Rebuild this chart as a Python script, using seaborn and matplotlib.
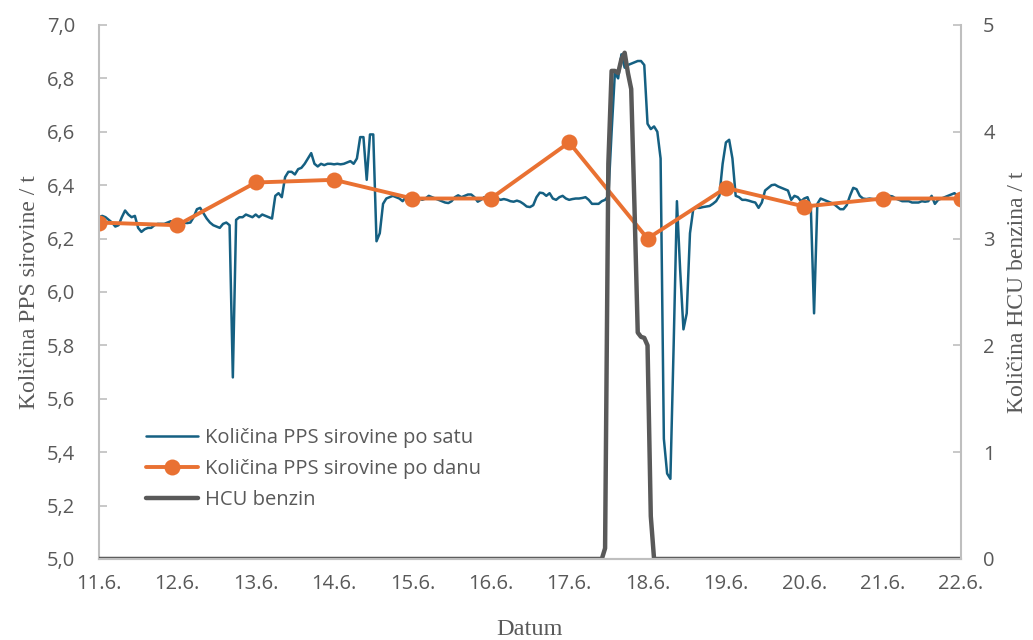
import matplotlib
matplotlib.use("Agg")
import matplotlib.pyplot as plt
import matplotlib.dates as mdates
from matplotlib.ticker import FuncFormatter, MultipleLocator
from matplotlib.lines import Line2D
import pandas as pd
import seaborn as sns

# hourly feed of PPS raw material (t), one list per day
day_11 = [6.28, 6.285, 6.28, 6.27, 6.26, 6.245, 6.25, 6.28, 6.305, 6.29, 6.28, 6.285,
          6.24, 6.225, 6.235, 6.24, 6.24, 6.25, 6.255, 6.255, 6.255, 6.26, 6.265, 6.26]
day_12 = [6.26, 6.262, 6.26, 6.258, 6.26, 6.28, 6.31, 6.315, 6.295, 6.275, 6.26, 6.25,
          6.245, 6.24, 6.255, 6.26, 6.25, 5.68, 6.27, 6.28, 6.28, 6.29, 6.285, 6.28]
day_13 = [6.29, 6.28, 6.29, 6.285, 6.28, 6.275, 6.36, 6.37, 6.355, 6.43, 6.45, 6.45,
          6.44, 6.46, 6.465, 6.48, 6.50, 6.52, 6.48, 6.47, 6.48, 6.475, 6.48, 6.48]
day_14 = [6.478, 6.48, 6.478, 6.48, 6.485, 6.49, 6.48, 6.50, 6.58, 6.58, 6.42, 6.59,
          6.59, 6.19, 6.22, 6.33, 6.35, 6.355, 6.36, 6.355, 6.35, 6.34, 6.355, 6.35]
day_15 = [6.35, 6.345, 6.35, 6.345, 6.35, 6.36, 6.355, 6.35, 6.345, 6.34, 6.335, 6.333,
          6.34, 6.355, 6.362, 6.355, 6.36, 6.365, 6.365, 6.355, 6.338, 6.345, 6.355, 6.35]
day_16 = [6.35, 6.345, 6.35, 6.345, 6.348, 6.345, 6.34, 6.338, 6.342, 6.338, 6.33, 6.32,
          6.318, 6.325, 6.355, 6.372, 6.37, 6.36, 6.37, 6.35, 6.345, 6.355, 6.36, 6.35]
day_17 = [6.345, 6.348, 6.35, 6.35, 6.352, 6.355, 6.345, 6.33, 6.33, 6.33, 6.34, 6.345,
          6.36, 6.60, 6.82, 6.80, 6.89, 6.84, 6.85, 6.855, 6.86, 6.865, 6.865, 6.85]
day_18 = [6.63, 6.61, 6.62, 6.60, 6.50, 5.45, 5.32, 5.30, 5.80, 6.34, 6.08, 5.86,
          5.92, 6.22, 6.31, 6.315, 6.315, 6.318, 6.32, 6.322, 6.33, 6.34, 6.36, 6.48]
day_19 = [6.56, 6.57, 6.50, 6.36, 6.355, 6.345, 6.345, 6.342, 6.338, 6.335, 6.315, 6.335,
          6.38, 6.39, 6.40, 6.402, 6.395, 6.39, 6.385, 6.38, 6.345, 6.36, 6.355, 6.34]
day_20 = [6.35, 6.355, 6.32, 5.92, 6.33, 6.35, 6.345, 6.34, 6.335, 6.33, 6.32, 6.31,
          6.31, 6.325, 6.36, 6.39, 6.385, 6.36, 6.35, 6.348, 6.35, 6.348, 6.345, 6.34]
day_21 = [6.33, 6.35, 6.36, 6.358, 6.35, 6.345, 6.34, 6.34, 6.34, 6.335, 6.335, 6.335,
          6.34, 6.338, 6.34, 6.36, 6.33, 6.345, 6.35, 6.355, 6.36, 6.365, 6.37, 6.36]
day_22 = [6.37]

# daily average of PPS raw material (t)
daily_values = [6.26, 6.25, 6.41, 6.42, 6.35, 6.35, 6.56, 6.20, 6.39, 6.32, 6.35, 6.35]

# HCU gasoline (t), hourly
hcu_11 = [0, 0, 0, 0, 0, 0, 0, 0, 0, 0, 0, 0, 0, 0, 0, 0, 0, 0, 0, 0, 0, 0, 0, 0]
hcu_12 = [0, 0, 0, 0, 0, 0, 0, 0, 0, 0, 0, 0, 0, 0, 0, 0, 0, 0, 0, 0, 0, 0, 0, 0]
hcu_13 = [0, 0, 0, 0, 0, 0, 0, 0, 0, 0, 0, 0, 0, 0, 0, 0, 0, 0, 0, 0, 0, 0, 0, 0]
hcu_14 = [0, 0, 0, 0, 0, 0, 0, 0, 0, 0, 0, 0, 0, 0, 0, 0, 0, 0, 0, 0, 0, 0, 0, 0]
hcu_15 = [0, 0, 0, 0, 0, 0, 0, 0, 0, 0, 0, 0, 0, 0, 0, 0, 0, 0, 0, 0, 0, 0, 0, 0]
hcu_16 = [0, 0, 0, 0, 0, 0, 0, 0, 0, 0, 0, 0, 0, 0, 0, 0, 0, 0, 0, 0, 0, 0, 0, 0]
hcu_17 = [0, 0, 0, 0, 0, 0, 0, 0, 0, 0, 0, 0.1,
          3.7, 4.57, 4.57, 4.55, 4.68, 4.74, 4.55, 4.40, 3.3, 2.12, 2.08, 2.07]
hcu_18 = [2.0, 0.4, 0, 0, 0, 0, 0, 0, 0, 0, 0, 0, 0, 0, 0, 0, 0, 0, 0, 0, 0, 0, 0, 0]
hcu_19 = [0, 0, 0, 0, 0, 0, 0, 0, 0, 0, 0, 0, 0, 0, 0, 0, 0, 0, 0, 0, 0, 0, 0, 0]
hcu_20 = [0, 0, 0, 0, 0, 0, 0, 0, 0, 0, 0, 0, 0, 0, 0, 0, 0, 0, 0, 0, 0, 0, 0, 0]
hcu_21 = [0, 0, 0, 0, 0, 0, 0, 0, 0, 0, 0, 0, 0, 0, 0, 0, 0, 0, 0, 0, 0, 0, 0, 0]
hcu_22 = [0]

labels = ["Količina PPS sirovine po satu", "Količina PPS sirovine po danu", "HCU benzin"]

pps_hourly = (day_11 + day_12 + day_13 + day_14 + day_15 + day_16 + day_17 + day_18
              + day_19 + day_20 + day_21 + day_22)
hcu_hourly = (hcu_11 + hcu_12 + hcu_13 + hcu_14 + hcu_15 + hcu_16 + hcu_17 + hcu_18
              + hcu_19 + hcu_20 + hcu_21 + hcu_22)

hours = pd.date_range("2024-06-11 00:00", periods=len(pps_hourly), freq="h")
days = pd.date_range("2024-06-11", periods=len(daily_values), freq="D")

hourly_df = pd.DataFrame({"time": hours, "pps": pps_hourly, "hcu": hcu_hourly})
daily_df = pd.DataFrame({"time": days, "pps": daily_values})

BLUE = "#156082"
ORANGE = "#E97132"
GRAY = "#595959"
AXIS = "#BFBFBF"
TEXT = "#595959"

sns.set_theme(style="white")
plt.rcParams["font.family"] = ["Open Sans", "DejaVu Sans"]

fig = plt.figure(figsize=(10.33, 6.4), dpi=100)
ax = fig.add_axes([0.0958, 0.1266, 0.8345, 0.8344])
ax2 = ax.twinx()

sns.lineplot(data=hourly_df, x="time", y="pps", ax=ax, color=BLUE, linewidth=1.8)
sns.lineplot(data=daily_df, x="time", y="pps", ax=ax, color=ORANGE, linewidth=2.8,
             marker="o", markersize=11.5, markeredgewidth=0)
sns.lineplot(data=hourly_df, x="time", y="hcu", ax=ax2, color=GRAY, linewidth=3.2)

ax.set_xlim(days[0], days[-1])
ax.set_ylim(5.0, 7.0)
ax2.set_ylim(0, 5)

ax.xaxis.set_major_locator(mdates.DayLocator())
ax.xaxis.set_major_formatter(FuncFormatter(
    lambda v, p: f"{mdates.num2date(v).day}.{mdates.num2date(v).month}."))
ax.yaxis.set_major_locator(MultipleLocator(0.2))
ax.yaxis.set_major_formatter(FuncFormatter(lambda v, p: f"{v:.1f}".replace(".", ",")))
ax2.yaxis.set_major_locator(MultipleLocator(1))
ax2.yaxis.set_major_formatter(FuncFormatter(lambda v, p: f"{v:.0f}"))

for a in (ax, ax2):
    a.spines["top"].set_visible(False)
    for s in ("left", "right", "bottom"):
        a.spines[s].set_color(AXIS)
        a.spines[s].set_linewidth(1.5)
    a.grid(False)
ax.spines["right"].set_visible(False)
ax2.spines["left"].set_visible(False)

ax.tick_params(axis="y", direction="in", length=6, width=1.2, color=AXIS,
               labelsize=14.5, labelcolor=TEXT, pad=17)
ax.tick_params(axis="x", direction="in", length=5, width=1.2, color=AXIS,
               labelsize=14.5, labelcolor=TEXT, pad=11)
ax2.tick_params(axis="y", direction="in", length=6, width=1.2, color=AXIS,
                labelsize=14.5, labelcolor=TEXT, pad=16)

serif = ["Liberation Serif", "DejaVu Serif"]
ax.set_xlabel("Datum", family=serif, fontsize=17.5, color=TEXT, labelpad=18)
ax.set_ylabel("Količina PPS sirovine / t", family=serif, fontsize=17, color=TEXT, labelpad=5)
ax2.set_ylabel("Količina HCU benzina / t", family=serif, fontsize=17, color=TEXT, labelpad=9)

handles = [
    Line2D([], [], color=BLUE, linewidth=1.8),
    Line2D([], [], color=ORANGE, linewidth=2.8, marker="o", markersize=11.5, markeredgewidth=0),
    Line2D([], [], color=GRAY, linewidth=3.2),
]
ax2.legend(handles, labels, loc="upper left", bbox_to_anchor=(0.033, 0.28),
           frameon=False, fontsize=14.5, labelcolor=TEXT, handlelength=2.6,
           labelspacing=0.55, handletextpad=0.35)

fig.savefig("out.png", dpi=100)
